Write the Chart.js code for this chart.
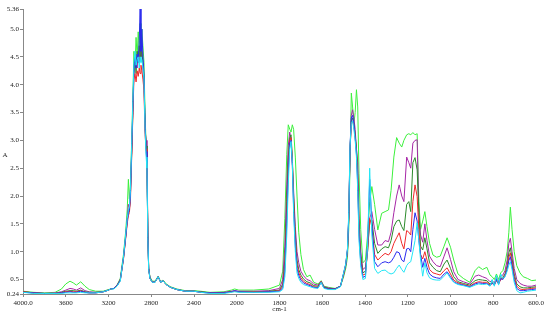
<!DOCTYPE html>
<html>
<head>
<meta charset="utf-8">
<script src="https://cdn.jsdelivr.net/npm/chart.js@4/dist/chart.umd.min.js"></script>
<style>
html,body{margin:0;padding:0;background:#fff;}
#wrap{width:550px;height:313px;}
</style>
</head>
<body>
<div id="wrap"><canvas id="c" width="550" height="313"></canvas></div>
<script>
const wavenumbers = [
4000,3900,3800,3700,3640,3600,3560,3530,3500,3460,
3420,3380,3320,3250,3200,3180,3150,3120,3090,3060,
3040,3025,3014,3005,2995,2983,2972,2962,2952,2942,
2932,2922,2912,2904,2896,2888,2878,2868,2858,2848,
2840,2832,2824,2812,2790,2765,2735,2712,2690,2660,
2620,2560,2480,2400,2340,2250,2120,2050,2020,1990,
1920,1850,1800,1785,1775,1766,1759,1752,1746,1740,
1734,1726,1718,1710,1700,1688,1672,1657,1640,1620,
1605,1592,1570,1540,1515,1500,1490,1482,1476,1470,
1464,1458,1452,1446,1440,1434,1428,1420,1410,1398,
1388,1378,1368,1355,1340,1322,1306,1290,1278,1265,
1252,1240,1228,1218,1205,1195,1186,1176,1166,1156,
1148,1140,1130,1120,1110,1098,1082,1065,1048,1030,
1016,1000,985,965,940,910,885,868,850,830,
815,805,795,785,775,765,755,745,735,727,
720,712,702,690,675,660,640,620,600];

const seriesGreen = [
.29,.27,.26,.27,.33,.42,.47,.44,.40,.46,
.38,.32,.29,.29,.32,.33,.34,.40,.52,.95,
1.35,1.75,2.3,1.95,2.2,3.0,3.8,4.6,4.3,4.85,
4.5,4.95,4.6,5.1,4.7,5.0,4.7,4.4,3.5,2.9,
2.5,1.3,.7,.55,.47,.47,.56,.46,.49,.42,
.37,.33,.30,.30,.29,.27,.28,.31,.33,.31,
.31,.33,.40,.65,1.6,2.75,3.28,3.2,3.15,3.28,
3.2,2.7,2.0,1.35,.95,.68,.55,.58,.45,.42,
.48,.38,.36,.34,.38,.55,.7,.9,1.4,2.6,
3.85,3.6,3.3,3.5,3.91,3.6,2.4,1.4,.8,.85,
1.3,1.9,2.17,1.85,1.39,1.69,1.72,1.75,2.1,2.7,
3.05,2.95,2.88,3.0,3.1,3.12,3.1,3.14,3.1,3.12,
1.9,1.4,1.55,1.72,1.45,1.15,.94,.9,.92,1.1,
1.25,1.08,.85,.6,.52,.45,.66,.73,.68,.72,
.58,.55,.50,.6,.5,.62,.66,.8,1.0,1.35,
1.8,1.4,1.0,.75,.62,.55,.52,.48,.49];

const seriesPurple = [
.28,.26,.25,.26,.28,.31,.34,.33,.31,.35,
.30,.28,.27,.28,.31,.33,.34,.40,.50,.9,
1.28,1.6,1.85,1.8,2.1,2.8,3.6,4.2,4.35,4.5,
4.3,4.6,4.4,4.7,4.5,4.6,4.3,4.0,3.2,3.0,
2.6,1.25,.68,.53,.46,.46,.55,.46,.48,.41,
.36,.32,.29,.29,.28,.26,.27,.29,.30,.29,
.29,.30,.34,.50,1.1,2.2,2.9,3.15,3.0,2.6,
2.1,1.45,1.0,.8,.65,.57,.50,.48,.42,.40,
.47,.37,.35,.33,.38,.58,.75,1.0,1.55,2.8,
3.45,3.55,3.4,3.2,2.85,2.6,1.6,1.0,.68,.72,
1.1,1.6,1.72,1.4,1.12,1.12,1.2,1.18,1.35,1.7,
2.0,2.2,2.0,1.9,2.7,2.6,2.5,2.95,3.0,3.01,
1.7,1.3,1.17,1.5,1.2,.92,.82,.75,.73,.92,
1.07,.86,.64,.5,.46,.42,.56,.58,.55,.52,
.46,.48,.44,.54,.46,.56,.58,.66,.85,1.15,
1.24,1.0,.7,.5,.43,.4,.38,.38,.4];

const seriesDarkGreen = [
.28,.26,.25,.25,.27,.29,.30,.30,.29,.31,
.28,.27,.27,.28,.31,.33,.34,.39,.49,.88,
1.25,1.55,1.75,1.75,2.0,2.75,3.5,4.3,4.45,4.2,
4.6,4.4,4.7,4.5,4.9,4.6,4.4,4.1,3.3,2.9,
2.7,1.35,.7,.52,.45,.45,.55,.45,.48,.41,
.36,.32,.29,.29,.28,.26,.26,.28,.29,.28,
.28,.29,.31,.42,.85,1.9,2.7,3.05,3.1,2.7,
2.0,1.3,.85,.68,.58,.51,.46,.44,.39,.38,
.46,.36,.34,.33,.38,.6,.76,1.02,1.6,2.8,
3.35,3.4,3.3,3.1,2.85,2.4,1.5,.92,.62,.65,
1.0,1.55,1.57,1.15,.97,1.05,1.09,1.07,1.2,1.45,
1.55,1.57,1.45,1.38,1.85,1.9,1.72,2.6,2.69,2.47,
1.7,1.1,1.03,1.25,1.05,.8,.72,.66,.64,.78,
.85,.7,.55,.46,.43,.40,.48,.5,.49,.48,
.42,.45,.41,.5,.43,.52,.54,.6,.75,.98,
1.07,.88,.6,.42,.37,.35,.35,.36,.37];

const seriesRed = [
.28,.26,.25,.25,.26,.28,.29,.28,.28,.30,
.27,.26,.26,.28,.31,.33,.34,.39,.48,.86,
1.22,1.5,1.65,1.7,1.9,2.7,3.45,4.1,4.2,4.05,
4.25,4.15,4.3,4.2,4.35,4.25,4.1,3.9,3.1,2.85,
2.75,1.4,.72,.52,.45,.45,.55,.45,.48,.41,
.36,.32,.29,.29,.27,.26,.26,.28,.29,.28,
.28,.28,.30,.38,.75,1.7,2.5,3.0,3.05,2.65,
1.9,1.2,.78,.62,.53,.47,.43,.41,.37,.36,
.46,.35,.33,.33,.38,.6,.77,1.03,1.6,2.85,
3.3,3.35,3.25,3.05,2.8,2.3,1.4,.85,.58,.6,
1.0,1.6,1.45,.95,.85,.92,.97,.94,1.0,1.15,
1.25,1.34,1.15,1.05,1.38,1.35,1.3,1.9,2.2,1.99,
1.4,.95,.87,1.0,.85,.68,.62,.6,.58,.66,
.71,.6,.49,.44,.41,.38,.44,.46,.45,.45,
.40,.43,.40,.48,.42,.5,.52,.58,.7,.9,
.98,.8,.55,.38,.33,.32,.33,.34,.35];

const seriesBlue = [
.27,.26,.25,.25,.26,.27,.28,.27,.27,.29,
.27,.26,.26,.28,.31,.33,.34,.39,.48,.88,
1.25,1.55,1.7,1.75,2.0,2.85,3.6,4.3,4.5,4.3,
4.55,4.4,4.8,5.36,4.6,5.0,4.5,4.2,3.3,2.8,
2.6,1.3,.7,.52,.45,.45,.55,.45,.48,.41,
.36,.32,.29,.29,.27,.26,.26,.28,.30,.28,
.27,.28,.29,.35,.65,1.5,2.4,2.95,3.0,2.55,
1.8,1.1,.7,.57,.49,.44,.41,.39,.36,.35,
.45,.35,.33,.33,.38,.62,.78,1.05,1.65,2.9,
3.4,3.45,3.3,3.05,2.75,2.2,1.3,.8,.54,.56,
1.1,2.3,1.5,.82,.73,.8,.82,.8,.82,.9,
1.0,.98,.85,.82,1.05,1.06,1.0,1.4,1.7,1.55,
1.2,.95,.72,.88,.72,.6,.55,.53,.52,.6,
.64,.55,.46,.42,.40,.37,.42,.44,.43,.43,
.39,.44,.40,.5,.42,.52,.5,.56,.68,.84,
.91,.74,.5,.34,.3,.3,.31,.32,.33];

const seriesCyan = [
.27,.25,.25,.25,.25,.26,.26,.26,.26,.27,
.26,.26,.26,.28,.31,.33,.33,.38,.47,.9,
1.3,1.6,1.75,1.8,2.1,2.95,3.7,4.4,4.6,4.35,
4.45,4.5,4.3,4.5,4.4,4.45,4.3,4.1,3.2,2.7,
2.5,1.25,.68,.52,.45,.45,.55,.45,.48,.41,
.36,.32,.29,.29,.27,.25,.25,.27,.28,.27,
.27,.27,.28,.32,.55,1.3,2.2,2.85,2.98,2.6,
1.7,1.0,.62,.52,.45,.41,.39,.37,.35,.34,
.45,.34,.32,.32,.37,.62,.78,1.05,1.7,2.9,
3.3,3.35,3.2,3.0,2.7,2.1,1.2,.75,.5,.52,
1.1,2.5,1.3,.7,.61,.66,.67,.62,.6,.62,
.7,.76,.68,.63,.75,.8,.82,1.0,1.2,1.52,
1.2,.85,.56,.8,.62,.53,.5,.49,.49,.56,
.62,.52,.45,.41,.39,.36,.40,.42,.41,.42,
.38,.5,.38,.58,.4,.6,.52,.55,.65,.76,
.82,.68,.45,.3,.26,.27,.29,.3,.31];

const xTickValues = [4000,3600,3200,2800,2400,2000,1800,1600,1400,1200,1000,800,600];
const xTickLabels = ['4000.0','3600','3200','2800','2400','2000','1800','1600','1400','1200','1000','800','600.0'];
const yTickValues = [0.24,0.5,1.0,1.5,2.0,2.5,3.0,3.5,4.0,4.5,5.0,5.36];
const yTickLabels = ['0.24','0.5','1.0','1.5','2.0','2.5','3.0','3.5','4.0','4.5','5.0','5.36'];

// IR display: region above 2000 cm-1 compressed by 2
function toP(w){ return w <= 2000 ? w : 2000 + (w - 2000) / 2; }

function mk(label, vals, color){
  return {
    label: label,
    data: wavenumbers.map((w,i)=>({x: toP(w), y: vals[i]})),
    borderColor: color,
    borderWidth: 1,
    pointRadius: 0,
    tension: 0,
    fill: false
  };
}

const FONT = 'Liberation Serif';

const titleA = {
  id: 'titleA',
  afterDraw(chart){
    const ctx = chart.ctx;
    ctx.save();
    ctx.fillStyle = '#222';
    ctx.font = '7px "Liberation Serif"';
    ctx.textAlign = 'center';
    ctx.textBaseline = 'middle';
    ctx.fillText('A', 5, 155);
    ctx.restore();
  }
};

new Chart(document.getElementById('c'), {
  type: 'line',
  data: {
    datasets: [
      mk('cyan', seriesCyan, '#22e6f5'),
      mk('blue', seriesBlue, '#2a2aee'),
      mk('red', seriesRed, '#f02828'),
      mk('darkgreen', seriesDarkGreen, '#2a8a2a'),
      mk('purple', seriesPurple, '#a626a6'),
      mk('green', seriesGreen, '#3cf03c')
    ]
  },
  options: {
    responsive: false,
    animation: false,
    devicePixelRatio: 1,
    layout: { padding: { top: 9, right: 14, left: 0, bottom: 0 } },
    plugins: { legend: { display: false }, tooltip: { enabled: false } },
    scales: {
      x: {
        type: 'linear',
        reverse: true,
        min: 600,
        max: 3000,
        afterBuildTicks(scale){ scale.ticks = xTickValues.map(w => ({ value: toP(w) })); },
        afterFit(scale){ scale.height = 19; },
        ticks: {
          autoSkip: false, maxRotation: 0, padding: 2,
          color: '#222', font: { family: FONT, size: 7 },
          callback: (v, i) => xTickLabels[i]
        },
        grid: { drawOnChartArea: false, tickLength: 3, color: '#888' },
        border: { color: '#888', width: 1 },
        title: { display: true, text: 'cm-1', color: '#222', font: { family: FONT, size: 7 }, padding: { top: 0, bottom: 0 } }
      },
      y: {
        type: 'linear',
        min: 0.24,
        max: 5.36,
        afterBuildTicks(scale){ scale.ticks = yTickValues.map(v => ({ value: v })); },
        afterFit(scale){ scale.width = 23; },
        ticks: {
          autoSkip: false, padding: 1,
          color: '#222', font: { family: FONT, size: 7 },
          callback: (v, i) => yTickLabels[i]
        },
        grid: { drawOnChartArea: false, tickLength: 3, color: '#888' },
        border: { color: '#888', width: 1 }
      }
    }
  },
  plugins: [titleA]
});
</script>
</body>
</html>
